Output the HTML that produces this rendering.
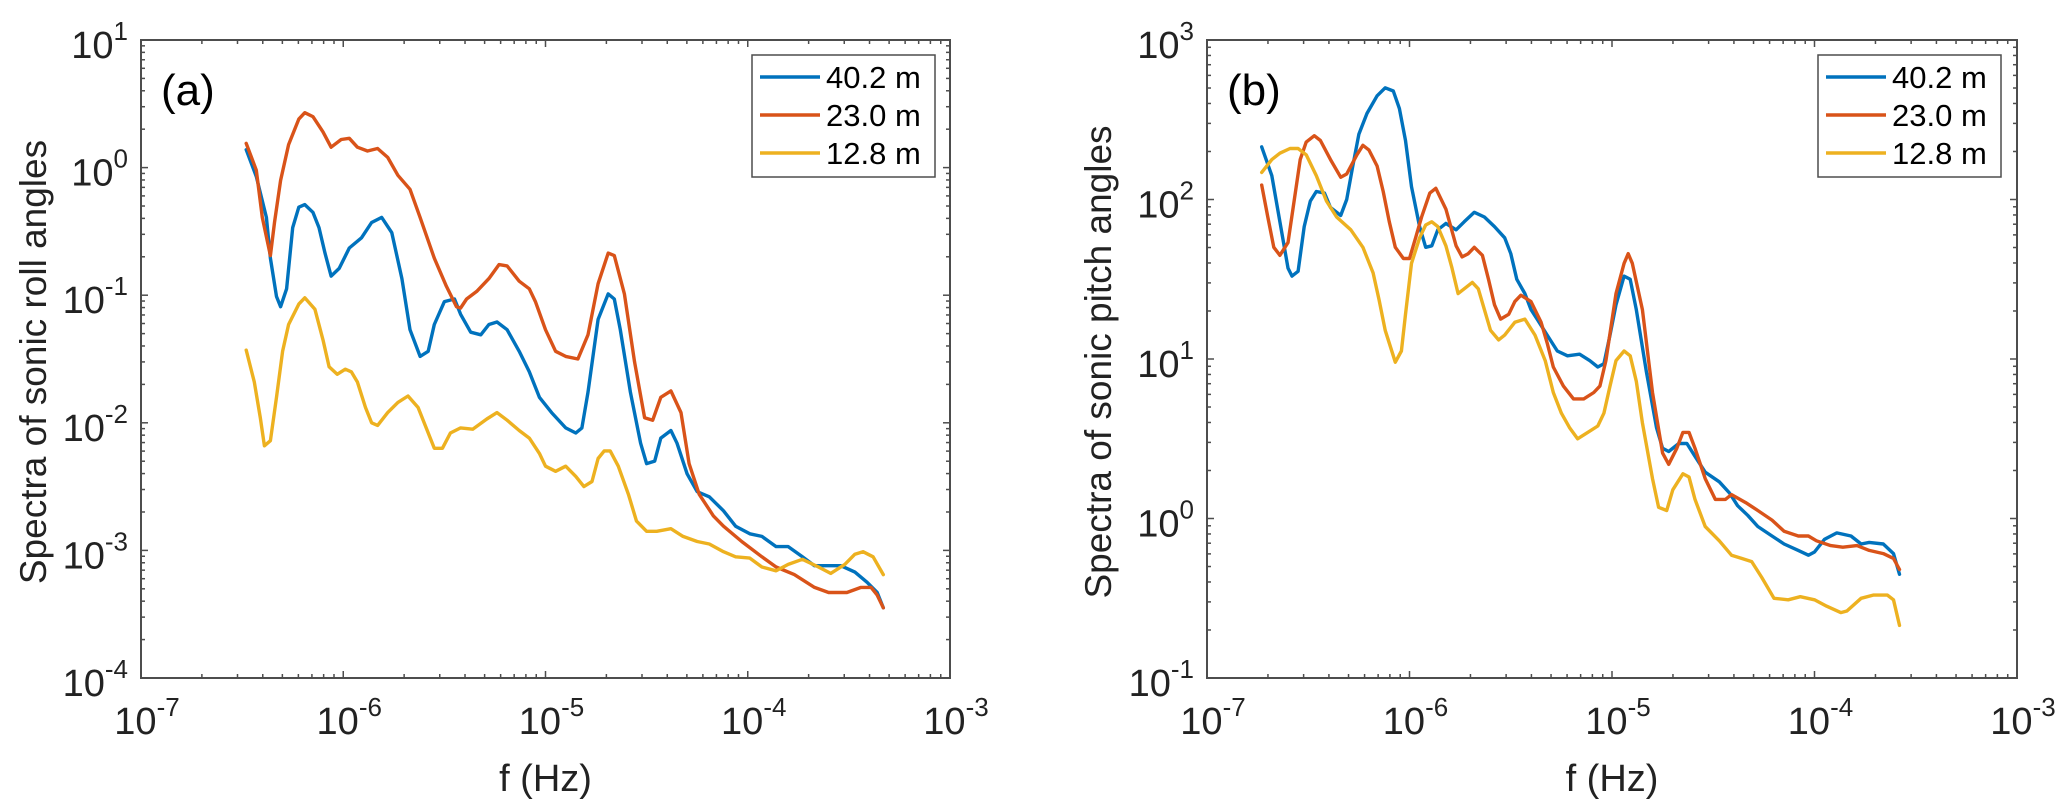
<!DOCTYPE html>
<html><head><meta charset="utf-8">
<style>
html,body{margin:0;padding:0;background:#fff;}
svg{display:block;font-family:"Liberation Sans",Arial,sans-serif;}
</style></head>
<body>
<svg id="chart" width="2067" height="807" viewBox="0 0 2067 807" xmlns="http://www.w3.org/2000/svg"></svg>
<script>
// ---- Panel (a): sonic roll angle spectra (log10 units) ----
const aBlueF=[-6.48,-6.43,-6.38,-6.36,-6.33,-6.31,-6.28,-6.25,-6.22,-6.19,-6.15,-6.12,-6.09,-6.06,-6.02,-5.97,-5.91,-5.86,-5.81,-5.76,-5.71,-5.67,-5.62,-5.58,-5.55,-5.50,-5.45,-5.42,-5.37,-5.32,-5.28,-5.24,-5.19,-5.13,-5.08,-5.03,-4.97,-4.90,-4.85,-4.82,-4.79,-4.74,-4.69,-4.66,-4.63,-4.58,-4.53,-4.50,-4.46,-4.43,-4.38,-4.35,-4.30,-4.25,-4.19,-4.12,-4.06,-3.99,-3.93,-3.86,-3.80,-3.73,-3.67,-3.60,-3.54,-3.47,-3.41,-3.36,-3.33];
const aBlueS=[0.14,-0.07,-0.39,-0.71,-1.01,-1.09,-0.95,-0.47,-0.31,-0.29,-0.35,-0.47,-0.67,-0.85,-0.79,-0.63,-0.55,-0.43,-0.39,-0.51,-0.87,-1.27,-1.48,-1.44,-1.23,-1.05,-1.03,-1.15,-1.29,-1.31,-1.23,-1.21,-1.27,-1.44,-1.60,-1.80,-1.92,-2.04,-2.08,-2.04,-1.76,-1.19,-0.99,-1.03,-1.27,-1.76,-2.16,-2.32,-2.30,-2.12,-2.06,-2.16,-2.40,-2.54,-2.58,-2.69,-2.81,-2.87,-2.89,-2.97,-2.97,-3.05,-3.12,-3.12,-3.12,-3.17,-3.25,-3.33,-3.45];
const aRedF=[-6.48,-6.43,-6.40,-6.36,-6.34,-6.31,-6.27,-6.22,-6.19,-6.15,-6.10,-6.06,-6.01,-5.97,-5.93,-5.88,-5.83,-5.78,-5.73,-5.67,-5.62,-5.55,-5.49,-5.44,-5.42,-5.39,-5.34,-5.28,-5.23,-5.19,-5.13,-5.08,-5.05,-5.00,-4.95,-4.90,-4.84,-4.79,-4.74,-4.69,-4.66,-4.61,-4.56,-4.51,-4.47,-4.43,-4.38,-4.33,-4.29,-4.24,-4.17,-4.12,-4.03,-3.93,-3.86,-3.77,-3.67,-3.60,-3.51,-3.44,-3.39,-3.36,-3.33];
const aRedS=[0.19,-0.02,-0.39,-0.69,-0.43,-0.10,0.18,0.38,0.43,0.40,0.28,0.16,0.22,0.23,0.16,0.13,0.15,0.08,-0.06,-0.17,-0.39,-0.71,-0.93,-1.09,-1.10,-1.03,-0.97,-0.87,-0.76,-0.77,-0.89,-0.95,-1.05,-1.27,-1.44,-1.48,-1.50,-1.31,-0.91,-0.67,-0.69,-0.99,-1.52,-1.96,-1.98,-1.80,-1.75,-1.92,-2.32,-2.56,-2.73,-2.81,-2.93,-3.05,-3.13,-3.19,-3.29,-3.33,-3.33,-3.29,-3.29,-3.35,-3.45];
const aYelF=[-6.48,-6.44,-6.41,-6.39,-6.36,-6.33,-6.30,-6.27,-6.22,-6.19,-6.14,-6.10,-6.07,-6.03,-5.99,-5.96,-5.93,-5.89,-5.86,-5.83,-5.78,-5.73,-5.68,-5.63,-5.59,-5.55,-5.51,-5.47,-5.42,-5.36,-5.29,-5.24,-5.19,-5.13,-5.08,-5.03,-5.00,-4.95,-4.90,-4.85,-4.81,-4.77,-4.74,-4.71,-4.68,-4.64,-4.59,-4.55,-4.50,-4.45,-4.38,-4.32,-4.25,-4.19,-4.12,-4.06,-3.99,-3.93,-3.86,-3.80,-3.73,-3.65,-3.59,-3.52,-3.47,-3.43,-3.38,-3.33];
const aYelS=[-1.43,-1.68,-1.96,-2.18,-2.14,-1.80,-1.44,-1.23,-1.07,-1.02,-1.11,-1.35,-1.56,-1.62,-1.58,-1.60,-1.68,-1.88,-2.00,-2.02,-1.92,-1.84,-1.79,-1.88,-2.04,-2.20,-2.20,-2.08,-2.04,-2.05,-1.97,-1.92,-1.98,-2.06,-2.12,-2.24,-2.34,-2.38,-2.34,-2.42,-2.50,-2.46,-2.28,-2.22,-2.22,-2.34,-2.56,-2.77,-2.85,-2.85,-2.83,-2.89,-2.93,-2.95,-3.01,-3.05,-3.06,-3.13,-3.16,-3.11,-3.07,-3.13,-3.18,-3.11,-3.03,-3.01,-3.05,-3.19];

// ---- Panel (b): sonic pitch angle spectra (log10 units) ----
const bBlueF=[-6.73,-6.68,-6.64,-6.60,-6.58,-6.55,-6.52,-6.49,-6.46,-6.42,-6.39,-6.34,-6.31,-6.28,-6.25,-6.21,-6.16,-6.12,-6.08,-6.05,-6.02,-5.99,-5.95,-5.92,-5.89,-5.86,-5.82,-5.77,-5.73,-5.68,-5.63,-5.58,-5.53,-5.50,-5.47,-5.43,-5.40,-5.37,-5.32,-5.27,-5.22,-5.16,-5.11,-5.07,-5.04,-5.01,-4.98,-4.94,-4.91,-4.88,-4.83,-4.78,-4.75,-4.72,-4.67,-4.63,-4.59,-4.54,-4.47,-4.42,-4.38,-4.33,-4.28,-4.21,-4.15,-4.08,-4.03,-4.00,-3.95,-3.89,-3.82,-3.77,-3.73,-3.66,-3.61,-3.58];
const bBlueS=[2.33,2.15,1.86,1.57,1.52,1.55,1.83,1.99,2.05,2.04,1.95,1.90,2.00,2.21,2.41,2.54,2.65,2.70,2.68,2.57,2.37,2.08,1.83,1.70,1.71,1.81,1.85,1.81,1.86,1.92,1.89,1.83,1.76,1.66,1.50,1.41,1.31,1.25,1.15,1.05,1.02,1.03,0.99,0.95,0.97,1.15,1.34,1.52,1.50,1.31,0.92,0.57,0.44,0.42,0.47,0.47,0.39,0.29,0.23,0.16,0.08,0.02,-0.05,-0.11,-0.16,-0.20,-0.23,-0.21,-0.13,-0.09,-0.11,-0.16,-0.15,-0.16,-0.22,-0.35];
const bRedF=[-6.73,-6.70,-6.67,-6.64,-6.60,-6.57,-6.54,-6.51,-6.47,-6.44,-6.39,-6.34,-6.31,-6.26,-6.23,-6.20,-6.16,-6.13,-6.10,-6.07,-6.03,-6.00,-5.97,-5.94,-5.90,-5.87,-5.82,-5.77,-5.74,-5.71,-5.68,-5.64,-5.61,-5.58,-5.55,-5.51,-5.48,-5.45,-5.40,-5.35,-5.32,-5.29,-5.24,-5.19,-5.14,-5.09,-5.06,-5.03,-4.98,-4.94,-4.92,-4.90,-4.85,-4.80,-4.75,-4.72,-4.68,-4.65,-4.62,-4.59,-4.54,-4.49,-4.44,-4.41,-4.34,-4.28,-4.21,-4.15,-4.08,-4.03,-3.99,-3.92,-3.86,-3.79,-3.73,-3.66,-3.61,-3.58];
const bRedS=[2.09,1.89,1.70,1.65,1.73,1.99,2.25,2.36,2.40,2.37,2.25,2.14,2.16,2.28,2.34,2.31,2.21,2.05,1.86,1.70,1.63,1.63,1.76,1.89,2.04,2.07,1.94,1.71,1.64,1.66,1.70,1.65,1.50,1.34,1.25,1.28,1.36,1.40,1.36,1.23,1.10,0.95,0.83,0.75,0.75,0.79,0.83,0.99,1.41,1.60,1.66,1.60,1.31,0.79,0.41,0.34,0.44,0.54,0.54,0.44,0.25,0.12,0.12,0.15,0.10,0.05,-0.01,-0.08,-0.11,-0.11,-0.14,-0.17,-0.18,-0.17,-0.20,-0.22,-0.25,-0.32];
const bYelF=[-6.73,-6.68,-6.64,-6.59,-6.55,-6.51,-6.46,-6.41,-6.36,-6.29,-6.23,-6.18,-6.15,-6.12,-6.08,-6.07,-6.04,-6.02,-5.99,-5.95,-5.92,-5.89,-5.86,-5.82,-5.79,-5.76,-5.73,-5.69,-5.66,-5.63,-5.60,-5.56,-5.53,-5.48,-5.43,-5.38,-5.33,-5.29,-5.25,-5.21,-5.17,-5.12,-5.07,-5.04,-5.01,-4.98,-4.94,-4.91,-4.88,-4.85,-4.80,-4.77,-4.73,-4.70,-4.65,-4.62,-4.59,-4.54,-4.47,-4.41,-4.36,-4.31,-4.26,-4.20,-4.13,-4.07,-4.00,-3.94,-3.87,-3.84,-3.77,-3.71,-3.64,-3.61,-3.58];
const bYelS=[2.17,2.25,2.29,2.32,2.32,2.28,2.15,1.99,1.89,1.81,1.70,1.54,1.37,1.18,1.02,0.98,1.05,1.28,1.60,1.76,1.84,1.86,1.83,1.71,1.57,1.41,1.44,1.48,1.44,1.31,1.18,1.12,1.15,1.23,1.25,1.15,0.99,0.79,0.66,0.57,0.50,0.54,0.58,0.66,0.83,0.99,1.05,1.02,0.86,0.60,0.25,0.07,0.05,0.18,0.28,0.26,0.12,-0.05,-0.14,-0.23,-0.25,-0.27,-0.37,-0.50,-0.51,-0.49,-0.51,-0.55,-0.59,-0.58,-0.50,-0.48,-0.48,-0.51,-0.67];

const aYTicks=[1,0,-1,-2,-3,-4];
const bYTicks=[3,2,1,0,-1];
const xTicks=[-7,-6,-5,-4,-3];
const legendLabels=["40.2 m","23.0 m","12.8 m"];
const colors=["#0072BD","#D95319","#EDB120"];

const NS="http://www.w3.org/2000/svg";
const svg=document.getElementById("chart");
function mk(tag,attrs,parent){const e=document.createElementNS(NS,tag);for(const k in attrs)e.setAttribute(k,attrs[k]);(parent||svg).appendChild(e);return e;}

function panel(cfg){
  const g=mk("g",{});
  
  
  const L=cfg.left,R=cfg.right,T=40,B=678;
  const xs=v=>L+(v-xTicks[0])/(xTicks[xTicks.length-1]-xTicks[0])*(R-L);
  const yMax=cfg.yTicks[0],yMin=cfg.yTicks[cfg.yTicks.length-1];
  const ys=v=>T+(yMax-v)/(yMax-yMin)*(B-T);
  const ax="#4d4d4d";
  const box=mk("rect",{x:L,y:T,width:R-L,height:B-T,fill:"none",stroke:ax,"stroke-width":2},g);
  
  
  const tg=mk("g",{stroke:ax,"stroke-width":1.5},g);
  
  
  for(let d=xTicks[0];d<xTicks[xTicks.length-1];d++){
    for(let m=1;m<10;m++){
      const x=xs(d+Math.log10(m)),len=m===1?7:4;
      mk("line",{x1:x,x2:x,y1:B,y2:B-len},tg);
      mk("line",{x1:x,x2:x,y1:T,y2:T+len},tg);
    }
  }
  for(let d=yMin;d<yMax;d++){
    for(let m=1;m<10;m++){
      const y=ys(d+Math.log10(m)),len=m===1?7:4;
      mk("line",{x1:L,x2:L+len,y1:y,y2:y},tg);
      mk("line",{x1:R,x2:R-len,y1:y,y2:y},tg);
    }
  }
  xTicks.forEach(t=>{
    const tx=mk("text",{x:xs(t)+6,y:734,"text-anchor":"middle","font-size":38,fill:"#222"},g);
    
    
    tx.innerHTML='10<tspan font-size="26" dy="-18">'+t+'</tspan>';
  });
  cfg.yTicks.forEach(t=>{
    const tx=mk("text",{x:L-13,y:ys(t)+18,"text-anchor":"end","font-size":38,fill:"#222"},g);
    
    
    tx.innerHTML='10<tspan font-size="26" dy="-18">'+t+'</tspan>';
  });
  const xt=mk("text",{x:(L+R)/2,y:791,"text-anchor":"middle","font-size":38,fill:"#222"},g);
  
  
  xt.textContent="f (Hz)";
  const yt=mk("text",{x:0,y:0,"text-anchor":"middle","font-size":37,fill:"#222",transform:"translate("+cfg.ytX+",362) rotate(-90)"},g);
  
  
  yt.textContent=cfg.ytitle;
  const pl=mk("text",{x:L+20,y:105,"font-size":44,fill:"#000"},g);
  
  
  pl.textContent=cfg.label;
  cfg.series.forEach((s,i)=>{
    const pts=s[0].map((f,j)=>xs(f).toFixed(1)+","+ys(s[1][j]).toFixed(1)).join(" ");
    const p=mk("polyline",{points:pts,fill:"none",stroke:colors[i],"stroke-width":3.4,"stroke-linejoin":"round","stroke-linecap":"round"},g);
    
    
  });
  const lg=mk("g",{},g);
  
  
  mk("rect",{x:cfg.legX,y:55,width:183,height:122,fill:"#fff",stroke:"#4d4d4d","stroke-width":1.5},lg);
  legendLabels.forEach((lab,i)=>{
    const y=77+i*38;
    const e=mk("g",{},lg);
    
    
    mk("line",{x1:cfg.legX+8,x2:cfg.legX+68,y1:y,y2:y,stroke:colors[i],"stroke-width":3.4},e);
    const t=mk("text",{x:cfg.legX+74,y:y+11,"font-size":31,fill:"#000"},e);
    t.textContent=lab;
  });
}
panel({name:"panel-a-roll",left:141,right:950,yTicks:aYTicks,ytX:46,ytitle:"Spectra of sonic roll angles",label:"(a)",legX:752,
  series:[[aBlueF,aBlueS],[aRedF,aRedS],[aYelF,aYelS]]});
panel({name:"panel-b-pitch",left:1207,right:2017,yTicks:bYTicks,ytX:1111,ytitle:"Spectra of sonic pitch angles",label:"(b)",legX:1818,
  series:[[bBlueF,bBlueS],[bRedF,bRedS],[bYelF,bYelS]]});
</script>
</body></html>
